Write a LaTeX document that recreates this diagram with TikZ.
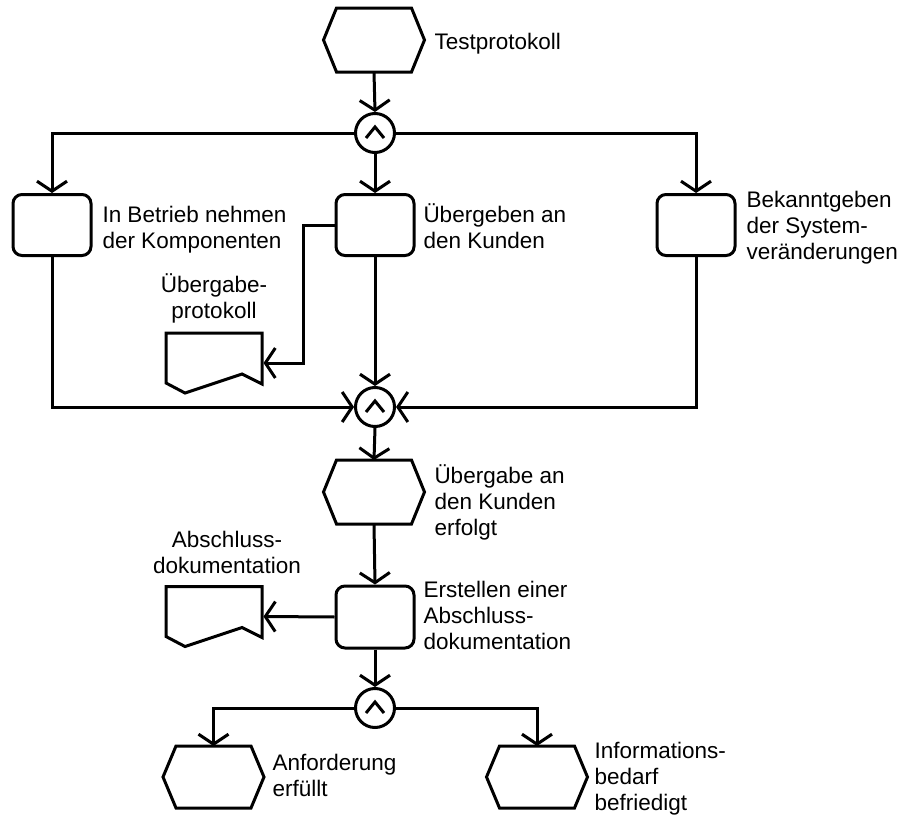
\documentclass[tikz,border=0pt]{standalone}
\usepackage{fontspec}
\setmainfont{Liberation Sans}
\usetikzlibrary{arrows.meta,calc}

% outline of an event (elongated hexagon) around a named node
\newcommand\hexoutline[1]{%
  \draw[line join=miter] ($(#1.north west)+(13,0)$) -- ($(#1.north east)+(-13,0)$)
    -- (#1.east) -- ($(#1.south east)+(-13,0)$) -- ($(#1.south west)+(13,0)$)
    -- (#1.west) -- cycle;}
% outline of a document symbol around a named node
\newcommand\docoutline[1]{%
  \draw[line join=miter] ($(#1)+(-48,-30)$) -- ($(#1)+(48,-30)$) -- ($(#1)+(48,21)$)
    -- ($(#1)+(28,11)$) -- ($(#1)+(-29,30)$) -- ($(#1)+(-48,20)$) -- cycle;}
% "and" sign inside a connector circle
\newcommand\andmark[1]{%
  \draw[line join=miter] ($(#1)+(-9,5)$) -- ($(#1)+(0,-6)$) -- ($(#1)+(9,5)$);}

\begin{document}
\begin{tikzpicture}[x=1pt,y=-1pt,
  line width=3pt,
  every node/.style={font=\fontsize{22.5}{26}\selectfont},
  func/.style={draw,rounded corners=9pt,minimum width=78pt,minimum height=61pt,inner sep=0pt},
  evt/.style={minimum width=98pt,minimum height=61pt,inner sep=0pt},
  docu/.style={minimum width=96pt,minimum height=60pt,inner sep=0pt},
  andop/.style={draw,circle,minimum size=39pt,inner sep=0pt},
  flow/.style={-{Straight Barb[length=10pt,width=30pt]}},
  lbl/.style={inner sep=0pt,anchor=base west},
  lblc/.style={inner sep=0pt,anchor=base},
]
\useasboundingbox (0,0) rectangle (898,819);
\fill[white] (0,0) rectangle (898,819);

% events
\node[evt] (e1) at (374,40) {};
\node[evt] (e2) at (374,492) {};
\node[evt,minimum height=59pt] (e3) at (213.5,777) {};
\node[evt,minimum height=59pt] (e4) at (537,777) {};
\hexoutline{e1}
\hexoutline{e2}
\hexoutline{e3}
\hexoutline{e4}

% functions
\node[func] (f1) at (52,225) {};
\node[func] (f2) at (375,225) {};
\node[func] (f3) at (696,225) {};
\node[func,minimum height=62pt] (f4) at (375,617) {};

% documents
\node[docu] (d1) at (214,363) {};
\node[docu] (d2) at (214,616.5) {};
\docoutline{d1}
\docoutline{d2}

% connectors
\node[andop] (a1) at (375,133) {};
\node[andop] (a2) at (375,407) {};
\node[andop] (a3) at (375,708) {};
\andmark{a1}
\andmark{a2}
\andmark{a3}

% labels
\node[lbl] (t1) at (433,49) {Testprotokoll};
\node[lbl] (t2) at (101,222) {\begin{tabular}[t]{@{}l@{}}In Betrieb nehmen\\der Komponenten\end{tabular}};
\node[lbl] (t3) at (422,222) {\begin{tabular}[t]{@{}l@{}}Übergeben an\\den Kunden\end{tabular}};
\node[lbl] (t4) at (745,207) {\begin{tabular}[t]{@{}l@{}}Bekanntgeben\\der System-\\veränderungen\end{tabular}};
\node[lblc] (t5) at (214,292) {\begin{tabular}[t]{@{}c@{}}Übergabe-\\protokoll\end{tabular}};
\node[lbl] (t6) at (433,483) {\begin{tabular}[t]{@{}l@{}}Übergabe an\\den Kunden\\erfolgt\end{tabular}};
\node[lblc] (t7) at (227,547) {\begin{tabular}[t]{@{}c@{}}Abschluss-\\dokumentation\end{tabular}};
\node[lbl] (t8) at (422,597) {\begin{tabular}[t]{@{}l@{}}Erstellen einer\\Abschluss-\\dokumentation\end{tabular}};
\node[lbl] (t9) at (271,770) {\begin{tabular}[t]{@{}l@{}}Anforderung\\erfüllt\end{tabular}};
\node[lbl] (t10) at (593,758) {\begin{tabular}[t]{@{}l@{}}Informations-\\bedarf\\befriedigt\end{tabular}};

% control flow
\draw[flow] (e1.south) -- (a1.north);
\draw[flow] (a1.west) -| (f1.north);
\draw[flow] (a1.south) -- (f2.north);
\draw[flow] (a1.east) -| (f3.north);
\draw[flow] (f2.west) -- ++(-31,0) |- (d1.east);
\draw[flow] (f1.south) |- (a2.west);
\draw[flow] (f2.south) -- (a2.north);
\draw[flow] (f3.south) |- (a2.east);
\draw[flow] (a2.south) -- (e2.north);
\draw[flow] (e2.south) -- (f4.north);
\draw[flow] (f4.west) -- (d2.east);
\draw[flow] (f4.south) -- (a3.north);
\draw[flow] (a3.west) -| (e3.north);
\draw[flow] (a3.east) -| (e4.north);
\end{tikzpicture}
\end{document}
